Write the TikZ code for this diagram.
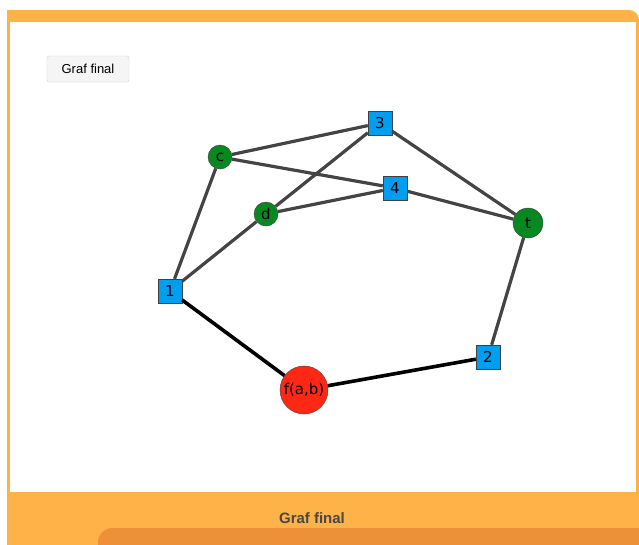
\documentclass[tikz,border=0pt]{standalone}
\usepackage{fontspec}
\setmainfont{DejaVu Sans}
\newfontfamily\uifont{Liberation Sans}
\definecolor{framebg}{RGB}{255,178,72}
\definecolor{framedark}{RGB}{238,144,56}
\definecolor{vblue}{RGB}{0,158,240}
\definecolor{vgreen}{RGB}{8,136,32}
\definecolor{vred}{RGB}{255,40,20}
\definecolor{egray}{RGB}{68,68,68}
\begin{document}
\begin{tikzpicture}[x=1pt,y=-1pt,
    vsq/.style={draw=black!75, fill=vblue, minimum size=24pt, inner sep=0pt,
      font=\fontsize{15}{15}\selectfont},
    vround/.style={circle, draw=black!75, fill=vgreen, minimum size=24pt,
      inner sep=0pt, font=\fontsize{15}{15}\selectfont},
    gedge/.style={draw=egray, line width=3.2pt},
    fedge/.style={draw=black, line width=3.6pt},
    button/.style={draw=black!18, fill=black!4, rounded corners=2pt,
      minimum width=82pt, minimum height=26pt, font=\uifont\fontsize{13}{13}\selectfont}]
    \useasboundingbox (0,0) rectangle (639,544);
    % Frame
    \fill[white] (0,0) rectangle (639,544);
    \fill[framebg, rounded corners=10pt] (7,10) rectangle (639,580);
    \fill[framebg] (7,10) rectangle (40,544);
    \fill[white] (10,22) rectangle (636,492);
    \fill[framedark, rounded corners=14pt] (98,528) rectangle (680,580);
    \node[font=\uifont\bfseries\fontsize{15}{15}\selectfont, text=black!72] (footer) at (312,518) {Graf final};
    % Button
    \node[button] (btn) at (88,69) {Graf final};
    % Vertices
    \node[vsq] (v3) at (380,123) {3};
    \node[vsq] (v4) at (395,188) {4};
    \node[vsq] (v1) at (170,291) {1};
    \node[vsq] (v2) at (488,357) {2};
    \node[vround] (vc) at (220,157) {c};
    \node[vround] (vd) at (266,214) {d};
    \node[vround, minimum size=30pt] (vt) at (528,223) {t};
    \node[vround, fill=vred, minimum size=48pt] (vf) at (304,390) {f(a,b)};
    % Edges
    \foreach \a/\b in {vc/v3, vc/v4, vc/v1, vd/v3, vd/v4, vd/v1, v3/vt, v4/vt, vt/v2}
      \draw[gedge] (\a) -- (\b);
    \draw[fedge] (v1) -- (vf);
    \draw[fedge] (vf) -- (v2);
\end{tikzpicture}
\end{document}
